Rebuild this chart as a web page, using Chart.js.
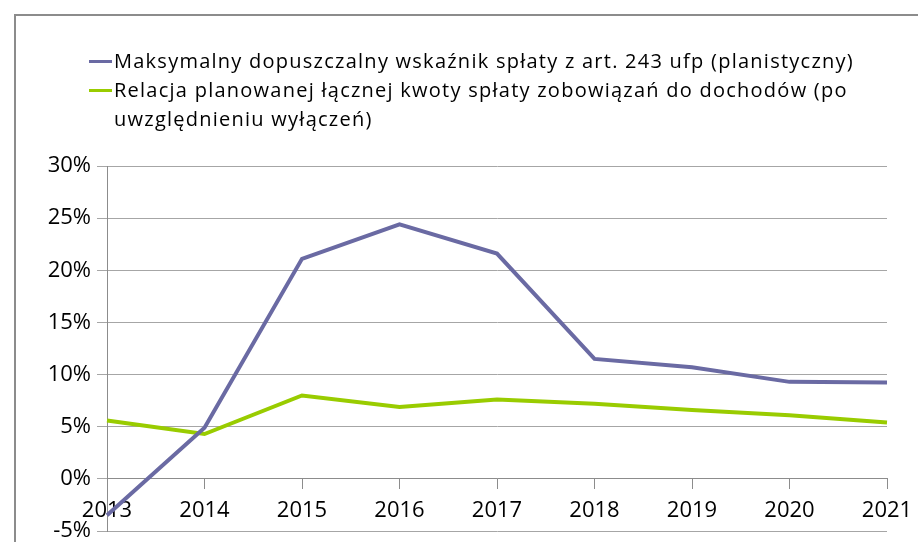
<!DOCTYPE html>
<html>
<head>
<meta charset="utf-8">
<script src="https://cdn.jsdelivr.net/npm/chart.js@4.4.0/dist/chart.umd.min.js"></script>
<style>
  body { margin: 0; background: #fff; }
  #wrap { position: relative; width: 918px; height: 542px; overflow: hidden; }
  #frame { position: absolute; left: 14px; top: 14px; width: 1000px; height: 600px;
           border-left: 2px solid #8c8c8c; border-top: 2px solid #8c8c8c; box-sizing: border-box; }
  #legend { position: absolute; left: 89px; top: 46px; font-family: "Open Sans", sans-serif;
            font-size: 20px; letter-spacing: 1.25px; color: #000; line-height: 29px; }
  .item { position: relative; padding-left: 25px; }
  .item span.sw { position: absolute; left: 0; top: 14px; width: 23px; height: 3px; }
</style>
</head>
<body>
<div id="wrap">
  <div id="frame"></div>
  <canvas id="myChart" width="918" height="542"></canvas>
  <div id="legend"></div>
</div>
<script>
  var years = ['2013', '2014', '2015', '2016', '2017', '2018', '2019', '2020', '2021'];
  var maxRatio = [-0.035, 0.049, 0.211, 0.244, 0.216, 0.115, 0.107, 0.093, 0.0925];
  var plannedRatio = [0.056, 0.043, 0.080, 0.069, 0.076, 0.072, 0.066, 0.061, 0.054];
  var seriesNames = [
    'Maksymalny dopuszczalny wskaźnik spłaty z art. 243 ufp (planistyczny)',
    'Relacja planowanej łącznej kwoty spłaty zobowiązań do dochodów (po uwzględnieniu wyłączeń)'
  ];
  var colors = ['#6a6aa3', '#99cc00'];

  // legend as html so the long label can wrap
  var legend = document.getElementById('legend');
  legend.style.width = '790px';
  seriesNames.forEach(function (name, i) {
    var d = document.createElement('div');
    d.className = 'item';
    d.innerHTML = '<span class="sw" style="background:' + colors[i] + '"></span>' + name;
    legend.appendChild(d);
  });

  var ctx = document.getElementById('myChart');
  var myChart = new Chart(ctx, {
    type: 'line',
    data: {
      labels: years,
      datasets: [{
        label: seriesNames[0],
        data: maxRatio,
        borderColor: colors[0],
        borderWidth: 4,
        pointRadius: 0,
        tension: 0
      }, {
        label: seriesNames[1],
        data: plannedRatio,
        borderColor: colors[1],
        borderWidth: 4,
        pointRadius: 0,
        tension: 0
      }]
    },
    options: {
      responsive: false,
      animation: false,
      layout: { padding: { top: 166, bottom: 11, left: 0, right: 31 } },
      plugins: { legend: { display: false }, tooltip: { enabled: false } },
      scales: {
        x: {
          position: { y: 0 },
          offset: false,
          afterFit: function (scale) { scale.paddingLeft = 0; scale.paddingRight = 0; },
          grid: { drawOnChartArea: false, drawTicks: true, tickLength: 10, color: '#8c8c8c' },
          border: { color: '#8c8c8c', width: 1 },
          ticks: { color: '#000', padding: 9, maxRotation: 0, font: { family: 'Open Sans', size: 22 } }
        },
        y: {
          min: -0.05,
          max: 0.30,
          afterFit: function (scale) { scale.width = 107; scale.paddingTop = 0; scale.paddingBottom = 0; },
          grid: { color: '#a6a6a6', tickLength: 10 },
          border: { color: '#8c8c8c', width: 1 },
          ticks: {
            stepSize: 0.05,
            color: '#000',
            padding: 6,
            font: { family: 'Open Sans', size: 22 },
            callback: function (v) { return Math.round(v * 100) + '%'; }
          }
        }
      }
    }
  });
</script>
</body>
</html>
